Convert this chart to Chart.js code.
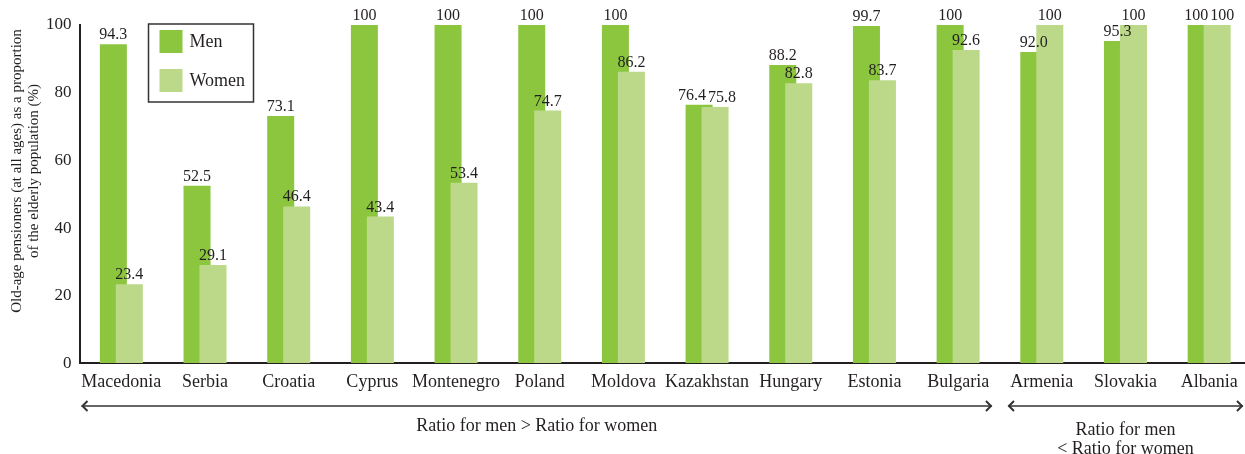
<!DOCTYPE html>
<html>
<head>
<meta charset="utf-8">
<script src="https://cdn.jsdelivr.net/npm/chart.js@4.4.1/dist/chart.umd.min.js"></script>
<style>
html, body { margin: 0; padding: 0; background: #fff; overflow: hidden; }
#wrap { width: 1251px; height: 454px; }
</style>
</head>
<body>
<div id="wrap"><canvas id="pensionChart" width="1251" height="454"></canvas></div>
<script>
const countries = ['Macedonia', 'Serbia', 'Croatia', 'Cyprus', 'Montenegro', 'Poland', 'Moldova',
    'Kazakhstan', 'Hungary', 'Estonia', 'Bulgaria', 'Armenia', 'Slovakia', 'Albania'];
const men_values = [94.3, 52.5, 73.1, 100, 100, 100, 100, 76.4, 88.2, 99.7, 100, 92.0, 95.3, 100];
const women_values = [23.4, 29.1, 46.4, 43.4, 53.4, 74.7, 86.2, 75.8, 82.8, 83.7, 92.6, 100, 100, 100];
const y_ticks = [0, 20, 40, 60, 80, 100];
const y_title = ['Old-age pensioners (at all ages) as a proportion', 'of the elderly population (%)'];
// groups under the axis: first and last category index, and text lines
const group_ranges = [[0, 10], [11, 13]];
const group_texts = [['Ratio for men > Ratio for women'], ['Ratio for men', '< Ratio for women']];

const dark = '#231f20';
const serif = "'Liberation Serif', 'DejaVu Serif', serif";

// men bar goes under the women bar, so draw them in that order ourselves
const drawOrderPlugin = {
    id: 'drawOrder',
    beforeDatasetsDraw(chart) {
        [0, 1].forEach(i => chart.getDatasetMeta(i).controller.draw());
        return false;
    }
};

function fmt(v) {
    return v === 100 ? '100' : v.toFixed(1);
}

const extrasPlugin = {
    id: 'extras',
    afterDraw(chart) {
        const ctx = chart.ctx;
        const area = chart.chartArea;
        const xs = chart.scales.x;
        ctx.save();

        // value labels, pushed apart when the two of a pair would collide
        ctx.fillStyle = dark;
        ctx.font = '16px ' + serif;
        ctx.textAlign = 'center';
        ctx.textBaseline = 'alphabetic';
        const menBars = chart.getDatasetMeta(0).data;
        const womenBars = chart.getDatasetMeta(1).data;
        menBars.forEach((mb, i) => {
            const wb = womenBars[i];
            const mt = fmt(men_values[i]), wt = fmt(women_values[i]);
            let mx = mb.x, wx = wb.x;
            const need = ctx.measureText(mt).width / 2 + ctx.measureText(wt).width / 2 + 2;
            if (Math.abs(mb.y - wb.y) < 12 && wx - mx < need) {
                const d = (need - (wx - mx)) / 2;
                mx -= d;
                wx += d;
            }
            ctx.fillText(mt, mx, mb.y - 5);
            ctx.fillText(wt, wx, wb.y - 5);
        });

        // legend box
        const lx = area.left + 69, ly = 24;
        ctx.strokeStyle = '#333';
        ctx.lineWidth = 1.5;
        ctx.strokeRect(lx, ly, 105, 78);
        ctx.textAlign = 'left';
        ctx.textBaseline = 'middle';
        ctx.font = '18px ' + serif;
        chart.data.datasets.forEach((ds, di) => {
            const sy = ly + 6 + di * 39;
            ctx.fillStyle = ds.backgroundColor;
            ctx.fillRect(lx + 11, sy, 23, 23);
            ctx.fillStyle = dark;
            ctx.fillText(ds.label, lx + 41, sy + 12);
        });

        // group arrows and texts
        const cw = xs.getPixelForValue(1) - xs.getPixelForValue(0);
        const ay = 406;
        ctx.strokeStyle = '#333';
        group_ranges.forEach((r, gi) => {
            const x1 = xs.getPixelForValue(r[0]) - cw / 2 + (gi === 0 ? 2 : 8);
            const x2 = xs.getPixelForValue(r[1]) + cw / 2 - 8;
            ctx.lineWidth = 1.4;
            ctx.beginPath();
            ctx.moveTo(x1, ay);
            ctx.lineTo(x2, ay);
            ctx.stroke();
            ctx.lineWidth = 2;
            ctx.beginPath();
            ctx.moveTo(x1 + 6, ay - 5);
            ctx.lineTo(x1 + 1, ay);
            ctx.lineTo(x1 + 6, ay + 5);
            ctx.moveTo(x2 - 6, ay - 5);
            ctx.lineTo(x2 - 1, ay);
            ctx.lineTo(x2 - 6, ay + 5);
            ctx.stroke();

            ctx.fillStyle = dark;
            ctx.font = '18px ' + serif;
            ctx.textAlign = 'center';
            ctx.textBaseline = 'middle';
            group_texts[gi].forEach((line, li) => {
                const ty = (gi === 0 ? 426 : 430) + li * 19;
                ctx.fillText(line, (x1 + x2) / 2, ty);
            });
        });

        // y axis title, rotated
        ctx.translate(0, 171);
        ctx.rotate(-Math.PI / 2);
        ctx.font = '15px ' + serif;
        y_title.forEach((line, li) => {
            ctx.fillText(line, 0, 17 + li * 17);
        });
        ctx.restore();
    }
};

new Chart(document.getElementById('pensionChart'), {
    type: 'bar',
    data: {
        labels: countries,
        datasets: [{
            label: 'Men',
            data: men_values,
            backgroundColor: '#8cc63f',
            borderWidth: 0,
            barPercentage: 1.69,
            categoryPercentage: 0.382
        }, {
            label: 'Women',
            data: women_values,
            backgroundColor: '#bcd98a',
            borderWidth: 0,
            barPercentage: 1.69,
            categoryPercentage: 0.382
        }]
    },
    options: {
        responsive: false,
        animation: false,
        devicePixelRatio: 1,
        layout: { padding: { top: 25, left: 38, right: 0, bottom: 53 } },
        plugins: {
            legend: { display: false },
            tooltip: { enabled: false }
        },
        scales: {
            x: {
                grid: { drawOnChartArea: false, drawTicks: false },
                border: { color: dark, width: 2 },
                ticks: {
                    color: dark,
                    font: { family: serif, size: 18 },
                    padding: 8,
                    autoSkip: false,
                    maxRotation: 0
                }
            },
            y: {
                min: 0,
                max: 100,
                afterBuildTicks: scale => { scale.ticks = y_ticks.map(v => ({ value: v })); },
                grid: { drawOnChartArea: false, drawTicks: false },
                border: { color: dark, width: 2 },
                ticks: {
                    color: dark,
                    font: { family: serif, size: 17 },
                    padding: 8
                }
            }
        }
    },
    plugins: [drawOrderPlugin, extrasPlugin]
});
</script>
</body>
</html>
